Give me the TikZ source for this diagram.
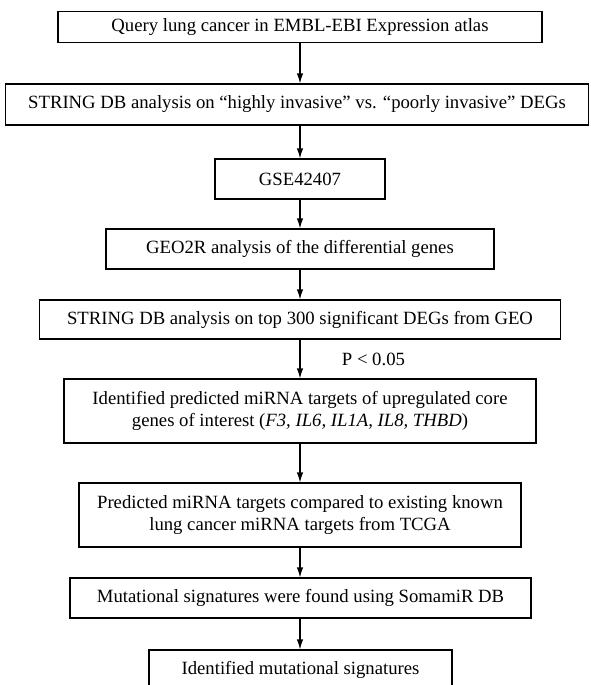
\documentclass[tikz,border=0pt]{standalone}
\usepackage{fontspec}
\setmainfont{Liberation Serif}
\usepackage{tikz}
\usetikzlibrary{arrows.meta}

\begin{document}
\begin{tikzpicture}[x=1pt,y=1pt,
  stagebox/.style 2 args={draw,line width=1.2pt,rectangle,align=center,inner sep=0pt,
    minimum width=#1pt,minimum height=#2pt,font=\fontsize{18.7}{21.5}\selectfont},
  flow/.style={line width=1.2pt,-{Latex[length=10pt,width=6.5pt]}}]
\useasboundingbox (0,0) rectangle (590,-685);
\clip (0,0) rectangle (590,-685);
\node[stagebox={484}{31}](query) at(300,-27) {Query lung cancer in EMBL-EBI Expression atlas};
\node[stagebox={583}{41}](stringA) at(297,-104.5) {STRING DB analysis on “highly invasive” vs. “poorly invasive” DEGs};
\node[stagebox={170}{40}](gse) at(300,-179) {GSE42407};
\node[stagebox={388}{40}](geo) at(300,-249) {GEO2R analysis of the differential genes};
\node[stagebox={521}{39}](stringB) at(300,-319.5) {STRING DB analysis on top 300 significant DEGs from GEO};
\node[stagebox={472}{64}](ident) at(300,-411) {Identified predicted miRNA targets of upregulated core\\
   genes of interest (\textit{F3, IL6, IL1A, IL8, THBD})};
\node[stagebox={442}{64}](pred) at(300,-515) {Predicted miRNA targets compared to existing known\\
   lung cancer miRNA targets from TCGA};
\node[stagebox={461}{40}](muts) at(300.5,-598) {Mutational signatures were found using SomamiR DB};
\node[stagebox={303}{40}](final) at(300.5,-670) {Identified mutational signatures};
\foreach \a/\b in %
{query/stringA,stringA/gse,gse/geo,geo/stringB,ident/pred,pred/muts,muts/final} {
   \draw[flow] (\a.south -| gse) -- (\b.north -| gse);
}
\draw[flow] (stringB) -- node[anchor=west,xshift=38pt,font=\fontsize{18.7}{21.5}\selectfont](pval) {P < 0.05} (ident);
\end{tikzpicture}
\end{document}
